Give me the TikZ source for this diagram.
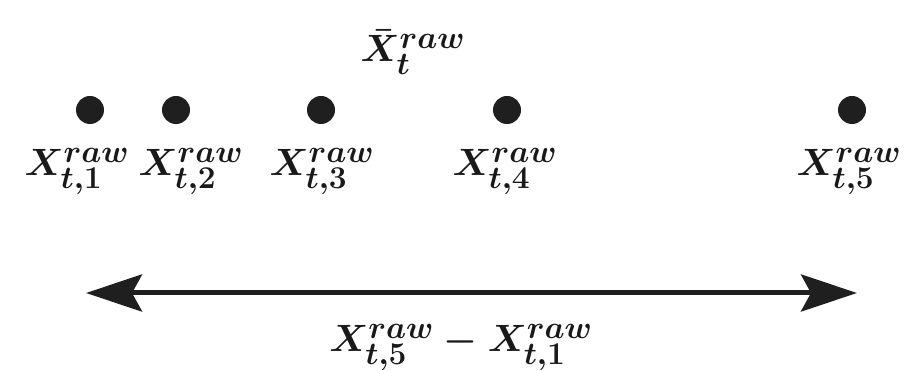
\documentclass[tikz,border=0pt]{standalone}
\usepackage{amsmath,amssymb}
\usepackage{tikz}
\usetikzlibrary{arrows.meta, positioning}

\begin{document}
\begin{tikzpicture}[x=1pt, y=-1pt,
  dot/.style={circle, fill=black!88, inner sep=0pt, minimum size=28pt},
  lab/.style={anchor=base, inner sep=0pt, text=black!90, scale=1.53, font=\Huge\boldmath},
  >={Stealth[length=56pt, width=37pt, inset=10pt]}]
\useasboundingbox (0,0) rectangle (911,371);
\node[lab] (mean) at (413,62) {$\bar{X}_t^{raw}$};
\node[dot] (p1) at (90,110) {};
\node[dot] (p2) at (176,110) {};
\node[dot] (p3) at (321,110) {};
\node[dot] (p4) at (507,110) {};
\node[dot] (p5) at (852,110) {};
\node[lab] (x1) at (77,176) {$X_{t,1}^{raw}$};
\node[lab] (x2) at (191,176) {$X_{t,2}^{raw}$};
\node[lab] (x3) at (322,176) {$X_{t,3}^{raw}$};
\node[lab] (x4) at (505,176) {$X_{t,4}^{raw}$};
\node[lab] (x5) at (849,176) {$X_{t,5}^{raw}$};
\coordinate (lo) at (86,293);
\coordinate (hi) at (857,293);
\draw[<->, line width=5pt, black!88] (lo) -- (hi);
\node[lab] (range) at (461,352) {$X_{t,5}^{raw} - X_{t,1}^{raw}$};
\end{tikzpicture}
\end{document}
